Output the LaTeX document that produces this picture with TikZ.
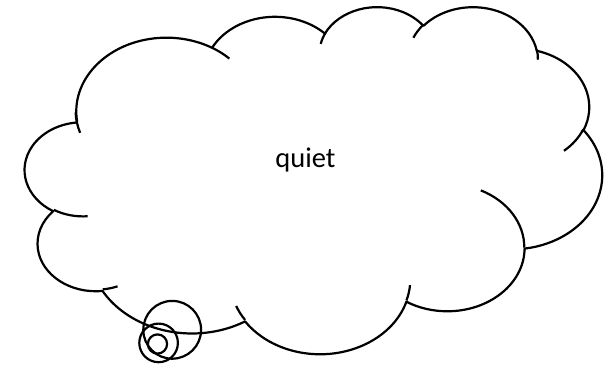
\documentclass[tikz,border=0pt]{standalone}
\usepackage{fontspec}
\setmainfont{Carlito}
\makeatletter
\pgfmathdeclarefunction{pang}{3}{%
  \begingroup
  \pgfmathparse{#1 + Mod(atan2(#2*sin(#1), #3*cos(#1)) - #1 + 180, 360) - 180}%
  \pgfmath@smuggleone\pgfmathresult
  \endgroup}
\makeatother
% elliptical arc with visual start angle and sweep (DrawingML arcTo)
\newcommand\carc[4]{arc[x radius=#1, y radius=#2, start angle={pang(#3,#1,#2)}, delta angle={pang(#3+#4,#1,#2)-pang(#3,#1,#2)}]}
\tikzset{
  cloudline/.style={line width=2.2pt, line join=round, draw=black},
  labeltext/.style={font=\fontsize{28.5}{34}\selectfont, anchor=base, inner sep=0pt}
}
\begin{document}
\begin{tikzpicture}[x=1pt,y=-1pt]
\useasboundingbox (0,0) rectangle (614,367);
\begin{scope}[xshift=25pt, yshift=-6pt, x=13.3565pt, y=-8.0324pt]
  \draw[cloudline] (3.900,14.370)
    \carc{6.753}{9.190}{-190.48748}{123.78053}
    \carc{5.333}{7.267}{-144.10238}{89.94523}
    \carc{4.365}{5.945}{-145.80792}{99.72302}
    \carc{4.857}{6.595}{-130.98607}{117.24173}
    \carc{5.333}{7.273}{-78.70888}{109.02692}
    \carc{6.775}{9.220}{-46.26725}{130.269}
    \carc{5.785}{7.867}{0.62502}{114.03333}
    \carc{6.752}{9.215}{22.4516}{115.17255}
    \carc{7.720}{10.543}{66.24263}{75.71102}
    \carc{4.360}{5.918}{-274.94208}{146.73557}
    \carc{4.345}{5.945}{-246.8285}{152.51885}
    -- cycle;
  \draw[cloudline]
    (4.693,26.177) \carc{4.345}{5.945}{86.742}{26.4295}
    (6.928,34.899) \carc{4.360}{5.918}{73.61047}{11.44747}
    (16.478,39.090) \carc{6.752}{9.215}{137.62415}{14.0811}
    (28.827,34.751) \carc{6.752}{9.215}{6.45327}{15.99835}
    (34.129,22.954) \carc{5.785}{7.867}{-70.29235}{70.91737}
    (41.798,15.354) \carc{5.333}{7.273}{30.31803}{27.7515}
    (38.324,5.426) \carc{4.857}{6.595}{-13.74433}{14.8589}
    (29.078,3.952) \carc{4.857}{6.595}{-149.18145}{18.19537}
    (22.141,4.720) \carc{4.365}{5.945}{-163.49427}{17.68635}
    (14.000,5.192) \carc{6.753}{9.190}{-66.70695}{12.31935}
    (4.127,15.789) \carc{6.753}{9.190}{155.63698}{21.10752};
\end{scope}
\draw[cloudline] (157.5,344) circle[radius=9.6];
\draw[cloudline] (158.6,342.9) circle[radius=19.3];
\draw[cloudline] (172.2,329.8) circle[radius=28.9];
\node[labeltext] (label) at (305.5,167) {quiet};
\end{tikzpicture}
\end{document}
